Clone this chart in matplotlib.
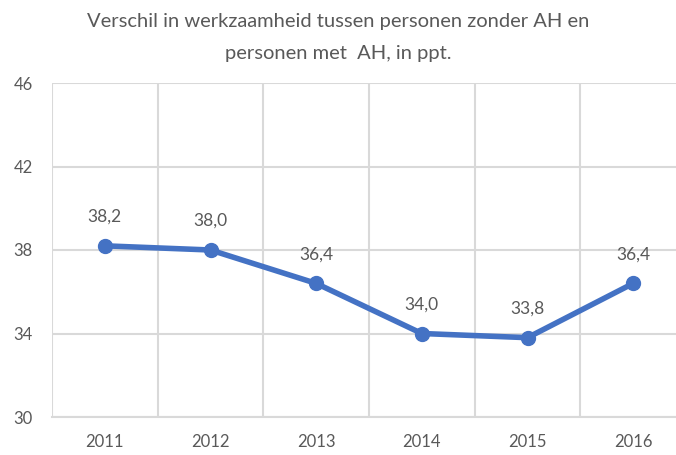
import matplotlib
matplotlib.use("Agg")
import matplotlib.pyplot as plt
import numpy as np

# data
years = ["2011", "2012", "2013", "2014", "2015", "2016"]
verschil = [38.2, 38.0, 36.4, 34.0, 33.8, 36.4]
yticks = [30, 34, 38, 42, 46]

plt.rcParams['font.family'] = ['Lato', 'DejaVu Sans']
grey_txt = '#595959'
grid_c = '#d9d9d9'
blue = '#4472c4'

W, H = 676, 455
fig = plt.figure(figsize=(W / 100, H / 100), dpi=100)
# axes spans past the right edge (reference is cropped there)
x0, x1 = 52, 686
y_top, y_bot = 83, 417
ax = fig.add_axes([x0 / W, 1 - y_bot / H, (x1 - x0) / W, (y_bot - y_top) / H])

x = np.arange(len(years))
ax.plot(x, verschil, color=blue, lw=4, marker='o', ms=10, solid_capstyle='round', zorder=3)
for xi, v in zip(x, verschil):
    ax.annotate(f"{v:.1f}".replace('.', ','), (xi, v), xytext=(0, 21), textcoords='offset points',
                ha='center', va='center', fontsize=12.5, color=grey_txt)

ax.set_xlim(-0.5, len(years) - 0.5)
ax.set_ylim(30, 46)
ax.set_yticks(yticks)
ax.set_xticks(x)
ax.set_xticklabels(years)
ax.set_xticks(np.arange(-0.5, len(years), 1), minor=True)
ax.grid(True, which='major', axis='y', color=grid_c, lw=1.5)
ax.grid(True, which='minor', axis='x', color=grid_c, lw=1.5)
ax.tick_params(axis='both', which='both', length=0, colors=grey_txt, labelsize=12)
ax.tick_params(axis='x', pad=12)
ax.tick_params(axis='y', pad=14)
for s in ['top', 'right', 'left']:
    ax.spines[s].set_visible(False)
ax.spines['bottom'].set_color(grid_c)
ax.spines['bottom'].set_linewidth(1.5)

fig.text(338 / W, 1 - 22 / H, "Verschil in werkzaamheid tussen personen zonder AH en",
         ha='center', va='center', fontsize=14.5, color=grey_txt)
fig.text(338 / W, 1 - 53 / H, "personen met  AH, in ppt.",
         ha='center', va='center', fontsize=14.5, color=grey_txt)

fig.savefig("out.png", dpi=100)
